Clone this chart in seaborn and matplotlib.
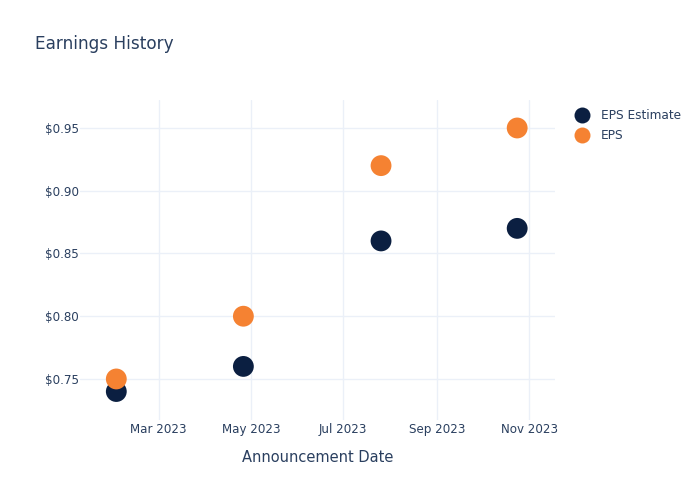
import matplotlib
matplotlib.use('Agg')
import matplotlib.pyplot as plt
import matplotlib.dates as mdates
from matplotlib.ticker import FuncFormatter
import seaborn as sns
import pandas as pd

# data
dates = ['2023-02-01', '2023-04-26', '2023-07-26', '2023-10-24']
eps_estimate = [0.74, 0.76, 0.86, 0.87]
eps_actual = [0.75, 0.80, 0.92, 0.95]
series_names = ['EPS Estimate', 'EPS']
series_colors = ['#0b1f41', '#f58232']

TEXT = '#2a3f5f'
GRID = '#ebf0f8'

df = pd.DataFrame({
    'Announcement Date': pd.to_datetime(dates * 2),
    'Value': eps_estimate + eps_actual,
    'Series': [series_names[0]] * len(dates) + [series_names[1]] * len(dates),
})

sns.set_style('white')
plt.rcParams['font.family'] = ['DejaVu Sans']

fig = plt.figure(figsize=(7, 5), dpi=100)
ax = fig.add_axes([80 / 700, 80 / 500, 475 / 700, 320 / 500])

sns.scatterplot(data=df, x='Announcement Date', y='Value', hue='Series',
                palette=dict(zip(series_names, series_colors)),
                s=225, linewidth=0, ax=ax, legend=False, zorder=3)

ax.set_xlim(pd.Timestamp('2023-01-08'), pd.Timestamp('2023-11-18'))
ax.set_ylim(0.7173, 0.9723)

ax.xaxis.set_major_locator(mdates.MonthLocator(bymonth=[3, 5, 7, 9, 11]))
ax.xaxis.set_major_formatter(mdates.DateFormatter('%b %Y'))
ax.set_yticks([0.75, 0.80, 0.85, 0.90, 0.95])
ax.yaxis.set_major_formatter(FuncFormatter(lambda v, p: f'${v:.2f}'))

ax.grid(True, color=GRID, linewidth=1)
ax.set_axisbelow(True)
for sp in ax.spines.values():
    sp.set_visible(False)
ax.tick_params(axis='both', length=0, colors=TEXT, labelsize=8.6)
ax.tick_params(axis='x', pad=2.5)
ax.tick_params(axis='y', pad=1)

ax.set_xlabel('Announcement Date', fontsize=10.5, color=TEXT, labelpad=10)
ax.set_ylabel('')

fig.text(35 / 700, 1 - 44 / 500, 'Earnings History', fontsize=12.2,
         color=TEXT, va='center', ha='left')

handles = [plt.Line2D([], [], marker='o', linestyle='', markersize=11.5,
                      markerfacecolor=c, markeredgewidth=0) for c in series_colors]
leg = fig.legend(handles, series_names, loc='upper left',
                 bbox_to_anchor=(570 / 700, 1 - 104 / 500), frameon=False,
                 fontsize=8.7, handletextpad=0.95, labelspacing=0.6,
                 handlelength=1.2, borderaxespad=0)
for t in leg.get_texts():
    t.set_color(TEXT)

fig.savefig('out.png', dpi=100)
